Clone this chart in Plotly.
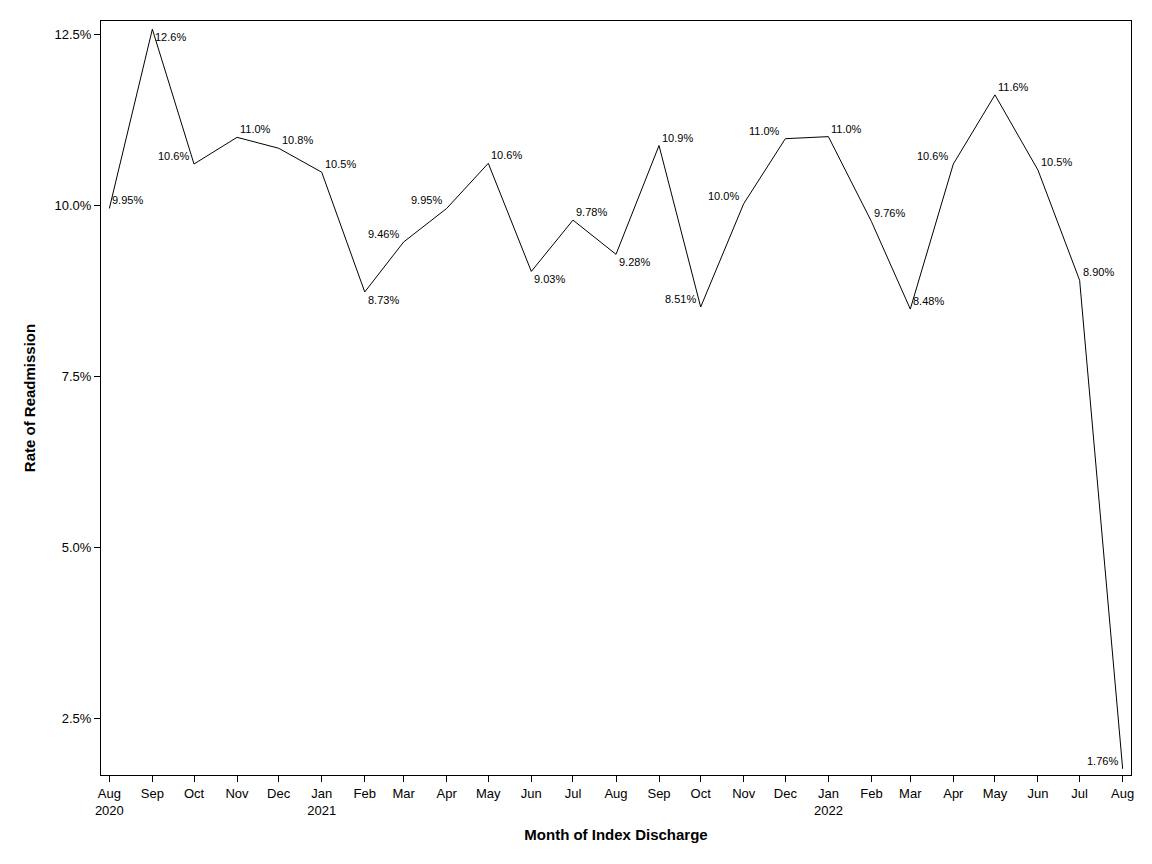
import plotly.graph_objects as go

months = ["2020-08-01", "2020-09-01", "2020-10-01", "2020-11-01", "2020-12-01",
          "2021-01-01", "2021-02-01", "2021-03-01", "2021-04-01", "2021-05-01",
          "2021-06-01", "2021-07-01", "2021-08-01", "2021-09-01", "2021-10-01",
          "2021-11-01", "2021-12-01", "2022-01-01", "2022-02-01", "2022-03-01",
          "2022-04-01", "2022-05-01", "2022-06-01", "2022-07-01", "2022-08-01"]
rates = [9.95, 12.57, 10.60, 10.99, 10.83, 10.48, 8.73, 9.46, 9.95, 10.61,
         9.03, 9.78, 9.28, 10.87, 8.51, 10.02, 10.97, 11.00, 9.76, 8.48,
         10.60, 11.61, 10.51, 8.90, 1.76]
labels = ["9.95%", "12.6%", "10.6%", "11.0%", "10.8%", "10.5%", "8.73%", "9.46%",
          "9.95%", "10.6%", "9.03%", "9.78%", "9.28%", "10.9%", "8.51%", "10.0%",
          "11.0%", "11.0%", "9.76%", "8.48%", "10.6%", "11.6%", "10.5%", "8.90%", "1.76%"]
label_side = ["right", "right", "left", "right", "right", "right", "right", "left",
              "left", "right", "right", "right", "right", "right", "left", "left",
              "left", "right", "right", "right", "left", "right", "right", "right", "left"]
label_vert = ["top", "bottom", "top", "top", "top", "top", "bottom", "top", "top", "top",
              "bottom", "top", "bottom", "top", "top", "top", "top", "top", "top", "top",
              "top", "top", "top", "top", "top"]
tick_text = ["Aug<br>2020", "Sep", "Oct", "Nov", "Dec", "Jan<br>2021", "Feb", "Mar",
             "Apr", "May", "Jun", "Jul", "Aug", "Sep", "Oct", "Nov", "Dec",
             "Jan<br>2022", "Feb", "Mar", "Apr", "May", "Jun", "Jul", "Aug"]
y_ticks = [2.5, 5.0, 7.5, 10.0, 12.5]
y_tick_text = ["2.5%", "5.0%", "7.5%", "10.0%", "12.5%"]

FONT = "Liberation Sans, Arial, sans-serif"

fig = go.Figure()
fig.add_trace(go.Scatter(
    x=months, y=rates, mode="lines",
    line=dict(color="black", width=1),
    hoverinfo="x+y", showlegend=False,
))

for m, r, t, side, vert in zip(months, rates, labels, label_side, label_vert):
    fig.add_annotation(
        x=m, y=r, text=t, showarrow=False,
        xanchor="left" if side == "right" else "right",
        yanchor="bottom" if vert == "top" else "top",
        xshift=1 if side == "right" else -3,
        yshift=0,
        font=dict(family=FONT, size=11, color="black"),
    )

fig.update_layout(
    width=1144, height=856,
    margin=dict(l=93, r=21, t=13, b=89),
    paper_bgcolor="white", plot_bgcolor="white",
    font=dict(family=FONT, size=13, color="black"),
    xaxis=dict(
        type="date",
        range=["2020-07-26", "2022-08-07"],
        tickvals=months, ticktext=tick_text,
        ticks="outside", ticklen=6, tickcolor="black", tickwidth=1,
        showline=True, linecolor="black", linewidth=1, mirror=True,
        showgrid=False, zeroline=False,
        tickfont=dict(size=13),
        title=dict(text="<b>Month of Index Discharge</b>", font=dict(size=15), standoff=12),
    ),
    yaxis=dict(
        range=[1.67, 12.69],
        tickvals=y_ticks, ticktext=y_tick_text,
        ticks="outside", ticklen=6, tickcolor="black", tickwidth=1,
        showline=True, linecolor="black", linewidth=1, mirror=True,
        showgrid=False, zeroline=False,
        tickfont=dict(size=13),
        title=dict(text="<b>Rate of Readmission</b>", font=dict(size=15), standoff=15),
    ),
)

fig.write_html("out.html")
